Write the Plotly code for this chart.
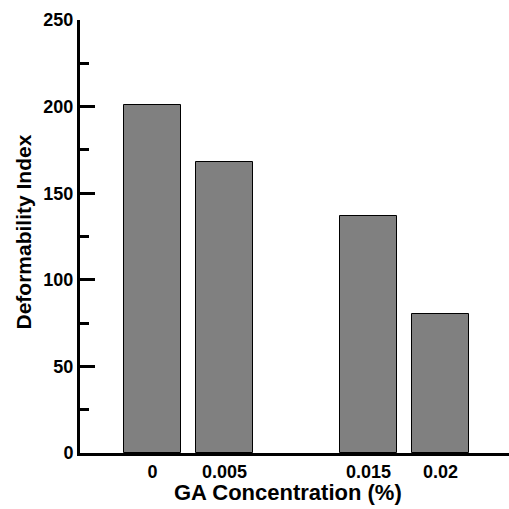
import plotly.graph_objects as go

concentrations = [0, 0.005, 0.015, 0.02]
concentration_labels = ["0", "0.005", "0.015", "0.02"]
deformability = [201, 168, 137, 80]
y_ticks = [0, 50, 100, 150, 200, 250]

FONT = "Liberation Sans"

fig = go.Figure()
fig.add_trace(go.Bar(
    x=concentrations,
    y=deformability,
    width=0.004,
    marker=dict(color="#808080", line=dict(color="black", width=1)),
))

W = 509
H = 509
ml, mr, mt, mb = 80, 0, 20, 56
pw = W - ml - mr
ph = H - mt - mb

fig.update_layout(
    width=W, height=H,
    margin=dict(l=ml, r=mr, t=mt, b=mb),
    plot_bgcolor="white",
    paper_bgcolor="white",
    showlegend=False,
    font=dict(family=FONT, color="black"),
    bargap=0,
)
fig.update_xaxes(
    range=[-0.00504, 0.02475],
    tickvals=concentrations,
    ticktext=["<b>%s</b>" % t for t in concentration_labels],
    ticks="",
    showline=True, linecolor="black", linewidth=3,
    showgrid=False, zeroline=False,
    tickfont=dict(family=FONT, size=18, color="black"),
)
fig.update_yaxes(
    range=[0, 250],
    tickvals=y_ticks,
    ticktext=["<b>%d</b>" % t for t in y_ticks],
    ticks="inside", ticklen=15, tickwidth=3, tickcolor="black",
    minor=dict(ticks="inside", ticklen=9, tickwidth=3, tickcolor="black", dtick=25, tick0=0),
    showline=True, linecolor="black", linewidth=3,
    showgrid=False, zeroline=False,
    tickfont=dict(family=FONT, size=18, color="black"),
)

def px_x(p):
    return (p - ml) / pw

def px_y(p):
    return (H - mb - p) / ph

fig.add_annotation(
    text="<b>GA Concentration (%)</b>", xref="paper", yref="paper",
    x=px_x(288), y=px_y(492), xanchor="center", yanchor="middle",
    showarrow=False, font=dict(family=FONT, size=22, color="black"),
)
fig.add_annotation(
    text="<b>Deformability Index</b>", xref="paper", yref="paper",
    x=px_x(22.5), y=px_y(232), xanchor="center", yanchor="middle",
    textangle=-90,
    showarrow=False, font=dict(family=FONT, size=21, color="black"),
)

fig.write_html("out.html")
